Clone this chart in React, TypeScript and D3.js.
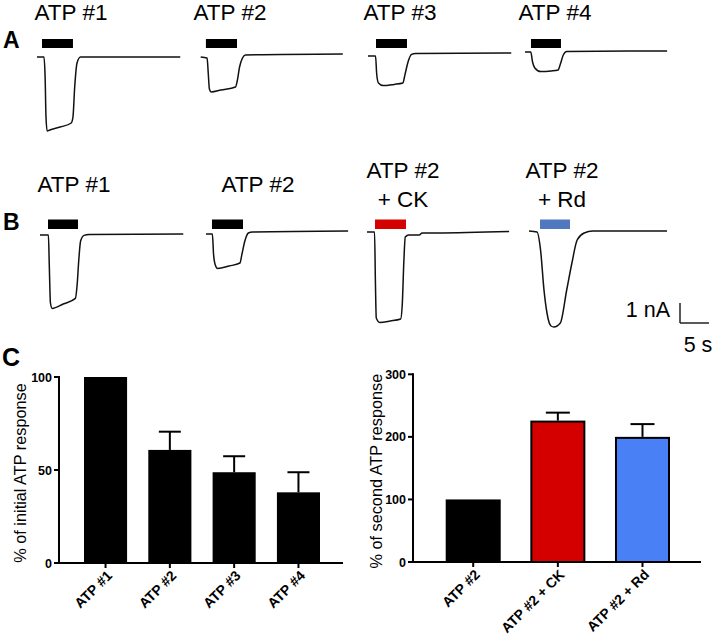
import React from "react";
import * as d3 from "d3";

const FONT = "'Liberation Sans', Arial, Helvetica, sans-serif";

// ---------- Panel A & B current traces: [time (s), current (nA)] ----------
const traceA1: [number, number][] = [[0, 0], [1.2, 0], [1.4, -1.0], [1.55, -3.0], [1.75, -3.7], [2.2, -3.65], [4, -3.5], [5.9, -3.3], [6.2, -3.0], [6.5, -1.5], [6.9, -0.3], [7.5, 0], [24.7, 0]];
const traceA2: [number, number][] = [[0, 0], [1.1, -0.05], [1.3, -0.8], [1.5, -1.6], [1.8, -1.75], [3.5, -1.65], [6.0, -1.5], [6.3, -1.2], [6.7, -0.5], [7.2, -0.05], [7.7, 0.1], [24.5, 0.15]];
const traceA3: [number, number][] = [[0, 0], [1.3, 0], [1.5, -0.9], [1.8, -1.35], [2.6, -1.48], [4.5, -1.42], [6.0, -1.35], [6.4, -0.9], [6.9, -0.3], [7.5, 0.08], [8.2, 0.13], [24.7, 0.15]];
const traceA4: [number, number][] = [[0, 0], [1.0, 0], [1.3, -0.5], [1.7, -0.8], [2.7, -0.98], [4.5, -0.95], [5.7, -0.9], [6.1, -0.6], [6.6, -0.15], [7.2, 0.03], [24.5, 0.05]];

const traceB1: [number, number][] = [[0, 0], [1.45, 0], [1.6, -1.5], [1.8, -3.4], [2.1, -3.67], [4, -3.45], [6.1, -3.17], [6.4, -2.5], [6.7, -1.2], [7.0, -0.3], [7.6, -0.02], [8.5, 0.03], [24.7, 0.05]];
const traceB2: [number, number][] = [[0, 0], [1.1, 0], [1.3, -1.0], [1.6, -1.55], [2.0, -1.72], [4, -1.6], [5.85, -1.45], [6.2, -1.0], [6.7, -0.35], [7.3, 0.05], [8, 0.1], [24.5, 0.15]];
const traceB3: [number, number][] = [[0, 0], [1.3, 0], [1.45, -2.5], [1.6, -4.3], [2.2, -4.52], [4, -4.45], [5.8, -4.35], [6.1, -3.5], [6.35, -1.5], [6.6, -0.25], [7.2, -0.15], [9, -0.15], [9.5, -0.05], [12, -0.05], [24.5, 0.02]];
const traceB4: [number, number][] = [[0, 0], [1.38, -0.05], [2.0, -0.97], [2.59, -2.97], [3.1, -4.1], [3.8, -4.75], [4.3, -4.8], [5.4, -4.6], [6.5, -2.95], [7.4, -1.6], [8.3, -0.45], [9.5, -0.1], [11, 0], [23.8, 0]];

const tracesA = [traceA1, traceA2, traceA3, traceA4];
const tracesB = [traceB1, traceB2, traceB3, traceB4];

const titlesA = ["ATP #1", "ATP #2", "ATP #3", "ATP #4"];
const titlesB = [["ATP #1"], ["ATP #2"], ["ATP #2", "+ CK"], ["ATP #2", "+ Rd"]];

// ATP application windows (s)
const appA: [number, number][] = [[0.86, 6.2], [0.9, 6.26], [1.38, 6.72], [1.03, 6.2]];
const appB: [number, number][] = [[1.38, 6.55], [1.03, 6.38], [1.38, 6.72], [1.9, 7.07]];
const appColorsB = ["#000000", "#000000", "#d50000", "#4f78c0"];

// scale bar values
const scaleCurrent = 1; // nA
const scaleTime = 5; // s

// ---------- Panel C bar charts ----------
const cats1 = ["ATP #1", "ATP #2", "ATP #3", "ATP #4"];
const means1 = [100, 60.8, 48.8, 38];
const errs1 = [0, 9.8, 8.6, 10.8];
const ticks1 = [0, 50, 100];

const cats2 = ["ATP #2", "ATP #2 + CK", "ATP #2 + Rd"];
const means2 = [100, 226, 200];
const errs2 = [0, 12.7, 20.4];
const colors2 = ["#000000", "#d40000", "#4a80f5"];
const ticks2 = [0, 100, 200, 300];

// layout
const originsA: [number, number][] = [[37, 57], [200.7, 57], [368, 56], [525, 52]];
const originsB: [number, number][] = [[40, 235], [206, 234], [367, 232], [529, 231]];
const titleXA = [71, 230, 400, 555];
const titleXB = [74, 258, 403, 562];

const tScale = d3.scaleLinear().domain([0, 5]).range([0, 29]);
const iScale = d3.scaleLinear().domain([0, 1]).range([0, -20]);

function Trace({ data, origin }: { data: [number, number][]; origin: [number, number] }) {
  const line = d3
    .line<[number, number]>()
    .x((d) => origin[0] + tScale(d[0]))
    .y((d) => origin[1] + iScale(d[1]))
    .curve(d3.curveMonotoneX);
  return <path d={line(data) || ""} fill="none" stroke="#111" strokeWidth={1.5} strokeLinejoin="round" />;
}

function BarChart({
  cats, means, errs, colors, ticks, yMax, axisX, axisRight, y0, yTop, bandL, bandR, padInner, strokeBars, capW, ylabel, labelX,
}: any) {
  const y = d3.scaleLinear().domain([0, yMax]).range([y0, yTop]);
  const x = d3.scaleBand<string>().domain(cats).range([bandL, bandR]).paddingInner(padInner).paddingOuter(0);
  const bw = x.bandwidth();
  return (
    <g>
      {cats.map((c: string, i: number) => {
        const bx = x(c)!;
        const top = y(means[i]);
        const cx = bx + bw / 2;
        return (
          <g key={c}>
            <rect
              x={strokeBars ? bx + 1 : bx}
              y={top + (strokeBars ? 1 : 0)}
              width={strokeBars ? bw - 2 : bw}
              height={y0 - top - (strokeBars ? 1 : 0)}
              fill={colors[i]}
              stroke={strokeBars ? "#000" : "none"}
              strokeWidth={2}
            />
            {errs[i] > 0 && (
              <g stroke="#000" strokeWidth={2}>
                <line x1={cx} x2={cx} y1={top} y2={y(means[i] + errs[i])} />
                <line x1={cx - capW / 2} x2={cx + capW / 2} y1={y(means[i] + errs[i])} y2={y(means[i] + errs[i])} />
              </g>
            )}
            <line x1={cx} x2={cx} y1={y0} y2={y0 + 5} stroke="#000" strokeWidth={2} />
            <text
              transform={`translate(${cx + 4},${y0 + 10}) rotate(-45)`}
              textAnchor="end"
              dy="0.35em"
              fontFamily={FONT}
              fontWeight="bold"
              fontSize={14}
            >
              {c}
            </text>
          </g>
        );
      })}
      <line x1={axisX} x2={axisRight} y1={y0} y2={y0} stroke="#000" strokeWidth={2} />
      <line x1={axisX} x2={axisX} y1={y0 + 1} y2={yTop - 1} stroke="#000" strokeWidth={2} />
      {ticks.map((t: number) => (
        <g key={t}>
          <line x1={axisX - 5} x2={axisX} y1={y(t)} y2={y(t)} stroke="#000" strokeWidth={2} />
          <text x={axisX - 7} y={y(t)} dy="0.36em" textAnchor="end" fontFamily={FONT} fontWeight="bold" fontSize={12.5}>
            {t}
          </text>
        </g>
      ))}
      <text
        transform={`translate(${labelX},${(y0 + yTop) / 2 + 3}) rotate(-90)`}
        textAnchor="middle"
        dy="0.35em"
        fontFamily={FONT}
        fontSize={16.3}
      >
        {ylabel}
      </text>
    </g>
  );
}

export default function App() {
  return (
    <svg width={714} height={641} style={{ position: "absolute", left: 0, top: 0, display: "block", background: "#fff" }}>
      <rect width={714} height={641} fill="#fff" />
      {/* Panel labels */}
      <text x={3} y={48} fontFamily={FONT} fontWeight="bold" fontSize={23}>A</text>
      <text x={3} y={230} fontFamily={FONT} fontWeight="bold" fontSize={23}>B</text>
      <text x={2} y={366} fontFamily={FONT} fontWeight="bold" fontSize={25}>C</text>

      {/* Panel A */}
      {tracesA.map((tr, i) => (
        <g key={"a" + i}>
          <text x={titleXA[i]} y={20} textAnchor="middle" fontFamily={FONT} fontSize={22.5}>{titlesA[i]}</text>
          <rect
            x={originsA[i][0] + tScale(appA[i][0])}
            y={39}
            width={tScale(appA[i][1]) - tScale(appA[i][0])}
            height={9}
            fill="#000"
          />
          <Trace data={tr} origin={originsA[i]} />
        </g>
      ))}

      {/* Panel B */}
      {tracesB.map((tr, i) => (
        <g key={"b" + i}>
          {titlesB[i].length === 1 ? (
            <text x={titleXB[i]} y={192} textAnchor="middle" fontFamily={FONT} fontSize={22.5}>{titlesB[i][0]}</text>
          ) : (
            <g>
              <text x={titleXB[i]} y={178} textAnchor="middle" fontFamily={FONT} fontSize={22.5}>{titlesB[i][0]}</text>
              <text x={titleXB[i]} y={207} textAnchor="middle" fontFamily={FONT} fontSize={22.5}>{titlesB[i][1]}</text>
            </g>
          )}
          <rect
            x={originsB[i][0] + tScale(appB[i][0])}
            y={219.5}
            width={tScale(appB[i][1]) - tScale(appB[i][0])}
            height={9.5}
            fill={appColorsB[i]}
          />
          <Trace data={tr} origin={originsB[i]} />
        </g>
      ))}

      {/* Scale bar */}
      <g stroke="#222" strokeWidth={1.5} fill="none">
        <line x1={680} x2={680} y1={323 + iScale(scaleCurrent)} y2={323} />
        <line x1={680} x2={680 + tScale(scaleTime)} y1={323} y2={323} />
      </g>
      <text x={670} y={317} textAnchor="end" fontFamily={FONT} fontSize={21.5}>{`${scaleCurrent} nA`}</text>
      <text x={698} y={352} textAnchor="middle" fontFamily={FONT} fontSize={21.5}>{`${scaleTime} s`}</text>

      {/* Panel C */}
      <BarChart
        cats={cats1} means={means1} errs={errs1} colors={cats1.map(() => "#000")} ticks={ticks1} yMax={100}
        axisX={59} axisRight={343} y0={563} yTop={377} bandL={84} bandR={320} padInner={0.33}
        strokeBars={false} capW={22} ylabel="% of initial ATP response" labelX={20}
      />
      <BarChart
        cats={cats2} means={means2} errs={errs2} colors={colors2} ticks={ticks2} yMax={300}
        axisX={413} axisRight={701} y0={562} yTop={374.3} bandL={445.7} bandR={670} padInner={0.35}
        strokeBars={true} capW={24} ylabel="% of second ATP response" labelX={376}
      />
    </svg>
  );
}
